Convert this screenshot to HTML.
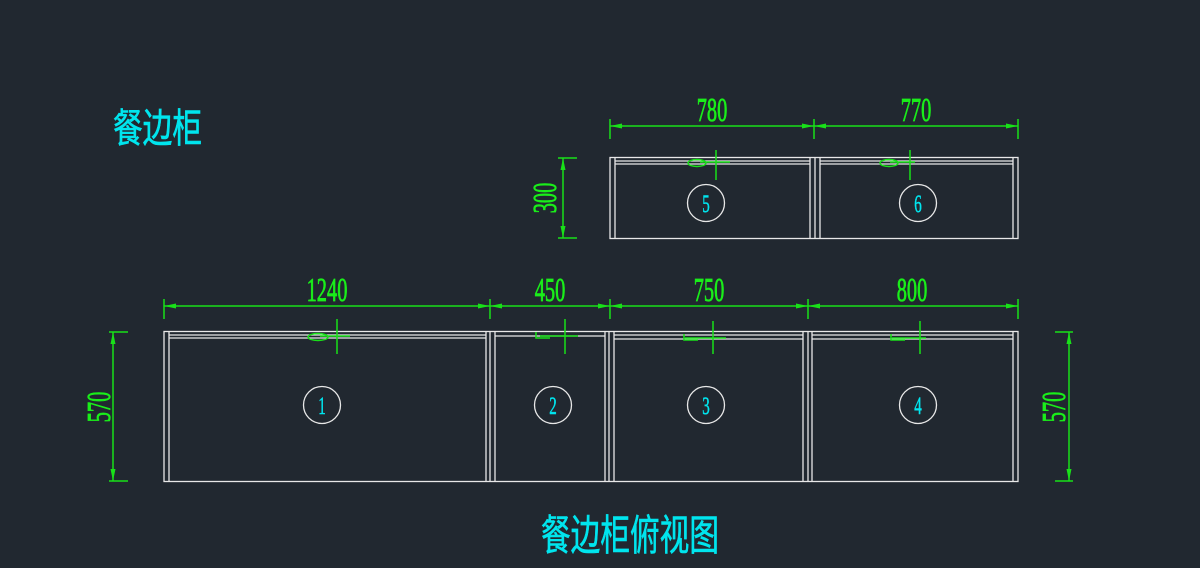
<!DOCTYPE html>
<html><head><meta charset="utf-8"><style>
html,body{margin:0;padding:0;background:#212830;}
svg{display:block;}
</style></head><body>
<svg width="1200" height="568" viewBox="0 0 1200 568" xmlns="http://www.w3.org/2000/svg">
<rect width="1200" height="568" fill="#212830"/>
<g font-family="'Noto Sans CJK SC','WenQuanYi Zen Hei',sans-serif" fill="#00e5ee" stroke="#00e5ee" stroke-width="0.6">
<text x="113" y="142" font-size="40" textLength="89" lengthAdjust="spacingAndGlyphs">餐边柜</text>
<text x="541" y="550" font-size="42" textLength="178" lengthAdjust="spacingAndGlyphs">餐边柜俯视图</text>
</g>
<g stroke="#e8e8e8" stroke-width="1.3" fill="none">
<rect x="610" y="157.5" width="408" height="81"/>
<line x1="615" y1="158" x2="615" y2="238"/>
<line x1="1013" y1="158" x2="1013" y2="238"/>
<line x1="810" y1="158" x2="810" y2="238"/>
<line x1="815" y1="158" x2="815" y2="238"/>
<line x1="820" y1="158" x2="820" y2="238"/>
<line x1="615" y1="161" x2="810" y2="161"/>
<line x1="615" y1="164" x2="810" y2="164"/>
<line x1="820" y1="161" x2="1013" y2="161"/>
<line x1="820" y1="164" x2="1013" y2="164"/>
<rect x="164" y="331.5" width="854" height="150"/>
<line x1="169" y1="332" x2="169" y2="481"/>
<line x1="486" y1="332" x2="486" y2="481"/>
<line x1="490" y1="332" x2="490" y2="481"/>
<line x1="495" y1="332" x2="495" y2="481"/>
<line x1="605" y1="332" x2="605" y2="481"/>
<line x1="609" y1="332" x2="609" y2="481"/>
<line x1="614" y1="332" x2="614" y2="481"/>
<line x1="803" y1="332" x2="803" y2="481"/>
<line x1="808" y1="332" x2="808" y2="481"/>
<line x1="812" y1="332" x2="812" y2="481"/>
<line x1="1013" y1="332" x2="1013" y2="481"/>
<line x1="169" y1="335" x2="486" y2="335"/>
<line x1="169" y1="338" x2="486" y2="338"/>
<line x1="495" y1="336" x2="605" y2="336"/>
<line x1="614" y1="335" x2="803" y2="335"/>
<line x1="614" y1="339" x2="803" y2="339"/>
<line x1="812" y1="335" x2="1013" y2="335"/>
<line x1="812" y1="339" x2="1013" y2="339"/>
<circle cx="706" cy="203" r="18.5"/>
<circle cx="918" cy="203" r="18.5"/>
<circle cx="322" cy="405" r="18.5"/>
<circle cx="553" cy="405" r="18.5"/>
<circle cx="706" cy="405" r="18.5"/>
<circle cx="918" cy="405" r="18.5"/>
</g>
<g font-family="'Liberation Serif',serif" fill="#00e5ee" stroke="#00e5ee" stroke-width="0.5" font-size="25" text-anchor="middle">
<text transform="translate(706 212) scale(0.6 1)">5</text>
<text transform="translate(918 212) scale(0.6 1)">6</text>
<text transform="translate(322 414) scale(0.6 1)">1</text>
<text transform="translate(553 414) scale(0.6 1)">2</text>
<text transform="translate(706 414) scale(0.6 1)">3</text>
<text transform="translate(918 414) scale(0.6 1)">4</text>
</g>
<g stroke="#19e019" stroke-width="1.5" fill="none">
<line x1="610" y1="126" x2="1018" y2="126"/>
<line x1="610" y1="119" x2="610" y2="139"/>
<line x1="814" y1="119" x2="814" y2="139"/>
<line x1="1018" y1="119" x2="1018" y2="139"/>
<line x1="164" y1="306" x2="1018" y2="306"/>
<line x1="164" y1="299" x2="164" y2="319"/>
<line x1="490" y1="299" x2="490" y2="319"/>
<line x1="610" y1="299" x2="610" y2="319"/>
<line x1="808" y1="299" x2="808" y2="319"/>
<line x1="1018" y1="299" x2="1018" y2="319"/>
<line x1="563" y1="158" x2="563" y2="238"/>
<line x1="558" y1="158" x2="577" y2="158"/>
<line x1="558" y1="238" x2="577" y2="238"/>
<line x1="113" y1="332" x2="113" y2="481"/>
<line x1="109" y1="332" x2="128" y2="332"/>
<line x1="109" y1="481" x2="128" y2="481"/>
<line x1="1069" y1="332" x2="1069" y2="481"/>
<line x1="1055" y1="332" x2="1073" y2="332"/>
<line x1="1055" y1="481" x2="1073" y2="481"/>
<line x1="716" y1="150" x2="716" y2="180"/><line x1="700" y1="162" x2="730" y2="162"/>
<line x1="910" y1="150" x2="910" y2="180"/><line x1="890" y1="162" x2="915" y2="162"/>
<ellipse cx="697" cy="163" rx="9" ry="3.5"/><ellipse cx="889" cy="163" rx="9" ry="3.5"/>
<line x1="337" y1="319" x2="337" y2="354"/><line x1="320" y1="336" x2="350" y2="336"/>
<ellipse cx="318" cy="337" rx="10" ry="3.5"/>
<line x1="565" y1="319" x2="565" y2="354"/><line x1="540" y1="336" x2="578" y2="336"/>
<path d="M536 332 v6 h14"/>
<line x1="713" y1="321" x2="713" y2="354"/><line x1="685" y1="338" x2="726" y2="338"/>
<path d="M684 334 v6 h14"/>
<line x1="920" y1="321" x2="920" y2="354"/><line x1="892" y1="338" x2="926" y2="338"/>
<path d="M891 334 v6 h14"/>
</g>
<g fill="#19e019">
<path d="M610 126 l12 -2.5 v5z M814 126 l-12 -2.5 v5z M814 126 l12 -2.5 v5z M1018 126 l-12 -2.5 v5z"/>
<path d="M164 306 l12 -2.5 v5z M490 306 l-12 -2.5 v5z M490 306 l12 -2.5 v5z M610 306 l-12 -2.5 v5z M610 306 l12 -2.5 v5z M808 306 l-12 -2.5 v5z M808 306 l12 -2.5 v5z M1018 306 l-12 -2.5 v5z"/>
<path d="M563 158 l-2.5 12 h5z M563 238 l-2.5 -12 h5z M113 332 l-2.5 12 h5z M113 481 l-2.5 -12 h5z M1069 332 l-2.5 12 h5z M1069 481 l-2.5 -12 h5z"/>
</g>
<g font-family="'Liberation Serif',serif" fill="#1aee1a" stroke="#1aee1a" stroke-width="0.8" font-size="34" text-anchor="middle">
<text transform="translate(712 121) scale(0.6 1)">780</text>
<text transform="translate(916 121) scale(0.6 1)">770</text>
<text transform="translate(327 301) scale(0.6 1)">1240</text>
<text transform="translate(550 301) scale(0.6 1)">450</text>
<text transform="translate(709 301) scale(0.6 1)">750</text>
<text transform="translate(912 301) scale(0.6 1)">800</text>
<text transform="translate(556 198) rotate(-90) scale(0.6 1)">300</text>
<text transform="translate(110 407) rotate(-90) scale(0.6 1)">570</text>
<text transform="translate(1065 407) rotate(-90) scale(0.6 1)">570</text>
</g>
</svg>
</body></html>
